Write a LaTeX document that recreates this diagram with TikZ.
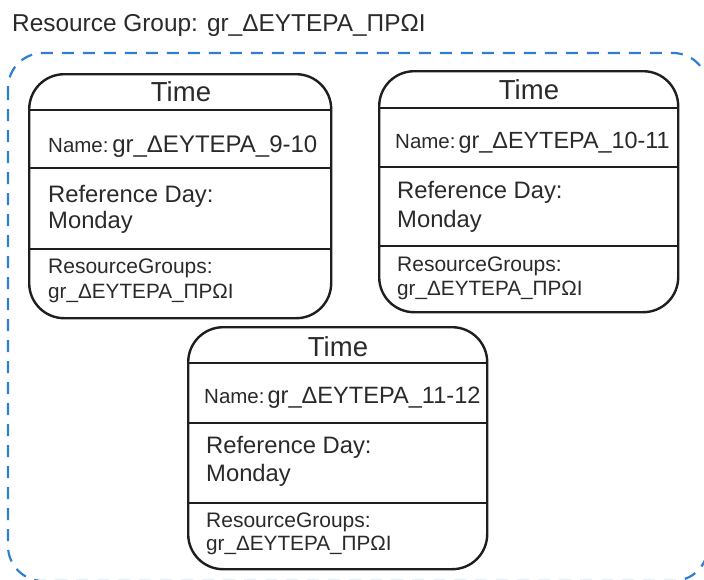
\documentclass[tikz,border=0pt]{standalone}
\usepackage{fontspec}
\setmainfont{Liberation Sans}
\definecolor{grpblue}{HTML}{2F7FD0}
\definecolor{ink}{HTML}{1E1E1E}
\definecolor{txt}{HTML}{2A2A2A}
\begin{document}
\begin{tikzpicture}[x=1pt,y=-1pt,
  timebox/.style={draw=ink, line width=2.4pt, rounded corners=35pt, rectangle, inner sep=0pt, anchor=north west},
  divider/.style={draw=ink, line width=2.2pt},
  grpbox/.style={draw=grpblue, line width=2.2pt, dash pattern=on 12pt off 9pt, rounded corners=35pt},
  lbl/.style={anchor=base west, inner sep=0pt, text=txt},
  ttl/.style={anchor=base, inner sep=0pt, text=txt, font=\fontsize{27.5}{31}\selectfont},
  big/.style={lbl, font=\fontsize{23.8}{27}\selectfont},
  small/.style={lbl, font=\fontsize{21}{25}\selectfont},
  greek/.style={lbl, font=\fontsize{20.7}{24}\selectfont}
]
\useasboundingbox (0,0) rectangle (704,579);
\clip (0,0) rectangle (704,579);

% group title and dashed frame
\node[lbl, font=\fontsize{24.4}{28}\selectfont] (gtitle) at (12,31) {Resource Group: gr\_ΔΕΥΤΕΡΑ\_ΠΡΩΙ};
\draw[grpbox] (8,53) rectangle (708,581);

% ---------- box 1 ----------
\node[timebox, minimum width=302pt, minimum height=244pt] (b1) at (28,73) {};
\draw[divider] ([yshift=-37pt]b1.north west) -- ([yshift=-37pt]b1.north east);
\draw[divider] ([yshift=-95pt]b1.north west) -- ([yshift=-95pt]b1.north east);
\draw[divider] ([yshift=-176pt]b1.north west) -- ([yshift=-176pt]b1.north east);
\node[ttl] (t1) at (181,101) {Time};
\node[lbl] (n1) at (48,152) {{\fontsize{20.5}{24}\selectfont Name:} {\fontsize{24}{28}\selectfont gr\_ΔΕΥΤΕΡΑ\_9-10}};
\node[big] (r1) at (48,202) {Reference Day:};
\node[big] (m1) at (48,228) {Monday};
\node[small] (g1) at (48,273) {ResourceGroups:};
\node[greek] (h1) at (48,298) {gr\_ΔΕΥΤΕΡΑ\_ΠΡΩΙ};

% ---------- box 2 ----------
\node[timebox, minimum width=299pt, minimum height=241pt] (b2) at (378,70) {};
\draw[divider] ([yshift=-38pt]b2.north west) -- ([yshift=-38pt]b2.north east);
\draw[divider] ([yshift=-97pt]b2.north west) -- ([yshift=-97pt]b2.north east);
\draw[divider] ([yshift=-176pt]b2.north west) -- ([yshift=-176pt]b2.north east);
\node[ttl] (t2) at (529,99) {Time};
\node[lbl] (n2) at (395,148) {{\fontsize{20.5}{24}\selectfont Name:}\kern3pt{\fontsize{23.4}{28}\selectfont gr\_ΔΕΥΤΕΡΑ\_10-11}};
\node[big] (r2) at (397,198) {Reference Day:};
\node[big] (m2) at (397,227) {Monday};
\node[small] (g2) at (397,271) {ResourceGroups:};
\node[greek] (h2) at (397,295) {gr\_ΔΕΥΤΕΡΑ\_ΠΡΩΙ};

% ---------- box 3 ----------
\node[timebox, minimum width=299pt, minimum height=242pt] (b3) at (187,326) {};
\draw[divider] ([yshift=-37pt]b3.north west) -- ([yshift=-37pt]b3.north east);
\draw[divider] ([yshift=-97pt]b3.north west) -- ([yshift=-97pt]b3.north east);
\draw[divider] ([yshift=-177pt]b3.north west) -- ([yshift=-177pt]b3.north east);
\node[ttl] (t3) at (338,356) {Time};
\node[lbl] (n3) at (204,403) {{\fontsize{20.5}{24}\selectfont Name:}\kern3pt{\fontsize{23.6}{28}\selectfont gr\_ΔΕΥΤΕΡΑ\_11-12}};
\node[big] (r3) at (206,453) {Reference Day:};
\node[big] (m3) at (206,481) {Monday};
\node[small] (g3) at (206,527) {ResourceGroups:};
\node[greek] (h3) at (206,550) {gr\_ΔΕΥΤΕΡΑ\_ΠΡΩΙ};
\end{tikzpicture}
\end{document}
